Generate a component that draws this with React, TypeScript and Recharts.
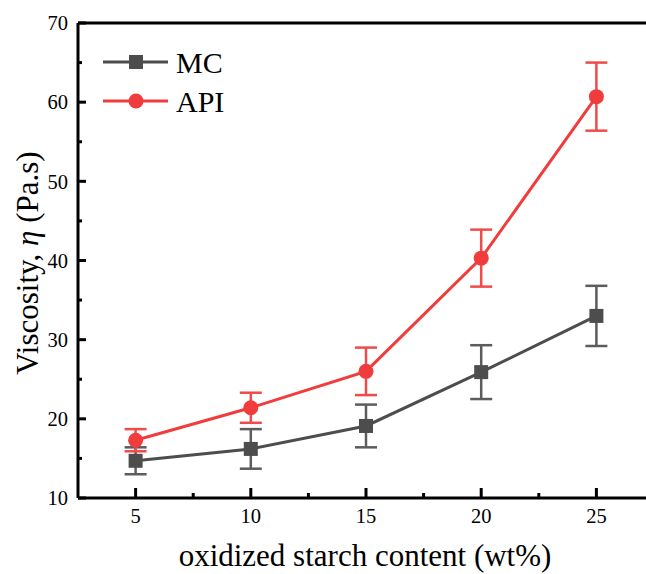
import React from 'react';
import { LineChart, Line, XAxis, YAxis, ErrorBar, ReferenceLine, Legend } from 'recharts';

const starchContent = [5, 10, 15, 20, 25];
const mcViscosity = [14.7, 16.2, 19.1, 25.9, 33.0];
const mcError = [1.7, 2.5, 2.7, 3.4, 3.8];
const apiViscosity = [17.3, 21.4, 26.0, 40.3, 60.7];
const apiError = [1.4, 1.9, 3.0, 3.6, 4.3];

const xTicks = [5, 7.5, 10, 12.5, 15, 17.5, 20, 22.5, 25];
const yTicks = [10, 15, 20, 25, 30, 35, 40, 45, 50, 55, 60, 65, 70];

const MC_COLOR = '#4d4d4d';
const MC_ERR = '#5c5c5c';
const API_COLOR = '#f03c3c';
const API_ERR = '#f04a4a';
const FONT = '"Liberation Serif", "Times New Roman", serif';

const chartData = starchContent.map((x, i) => ({
  x,
  mc: mcViscosity[i],
  mcErr: mcError[i],
  api: apiViscosity[i],
  apiErr: apiError[i],
}));

const YTick = (props: any) => {
  const { x, y, payload } = props;
  const v = payload.value;
  const major = v % 10 === 0;
  return (
    <g>
      <line x1={x} x2={x + (major ? 8 : 4)} y1={y} y2={y} stroke="#000" strokeWidth={3} />
      {major && (
        <text x={x - 10} y={y} dy="0.35em" textAnchor="end" fontFamily={FONT} fontSize={20.5} fill="#000">
          {v}
        </text>
      )}
    </g>
  );
};

const XTick = (props: any) => {
  const { x, y, payload } = props;
  const v = payload.value;
  const major = v % 5 === 0;
  return (
    <g>
      <line x1={x} x2={x} y1={y} y2={y - (major ? 10 : 5)} stroke="#000" strokeWidth={3} />
      {major && (
        <text x={x} y={y + 25} textAnchor="middle" fontFamily={FONT} fontSize={20.5} fill="#000">
          {v}
        </text>
      )}
    </g>
  );
};

const SquareDot = (props: any) => {
  const { cx, cy, index } = props;
  return <rect key={`sq-${index}`} x={cx - 7} y={cy - 7} width={14} height={14} fill={MC_COLOR} />;
};

const CircleDot = (props: any) => {
  const { cx, cy, index } = props;
  return <circle key={`ci-${index}`} cx={cx} cy={cy} r={7.5} fill={API_COLOR} />;
};

const LegendBox = () => (
  <svg width={160} height={84}>
    <line x1={8} x2={73} y1={22} y2={22} stroke={MC_COLOR} strokeWidth={3} />
    <rect x={34} y={15} width={14} height={14} fill={MC_COLOR} />
    <text x={81} y={22} dy="0.35em" fontFamily={FONT} fontSize={30} fill="#000">MC</text>
    <line x1={8} x2={73} y1={61} y2={61} stroke={API_COLOR} strokeWidth={3} />
    <circle cx={41} cy={61} r={7.5} fill={API_COLOR} />
    <text x={81} y={61} dy="0.35em" fontFamily={FONT} fontSize={30} fill="#000">API</text>
  </svg>
);

export default function App() {
  return (
    <div style={{ position: 'fixed', left: 0, top: 0, width: 646, height: 574, overflow: 'hidden', background: '#fff' }}>
      <LineChart width={680} height={574} data={chartData} margin={{ top: 23, right: 26, left: 0, bottom: 0 }}>
        <XAxis
          dataKey="x"
          type="number"
          domain={[2.5, 27.5]}
          ticks={xTicks}
          interval={0}
          height={76}
          tickSize={0}
          tickMargin={0}
          tickLine={false}
          axisLine={{ stroke: '#000', strokeWidth: 3 }}
          tick={<XTick />}
          label={{
            content: () => (
              <text x={365} y={566} textAnchor="middle" fontFamily={FONT} fontSize={31} fill="#000">
                oxidized starch content (wt%)
              </text>
            ),
          }}
        />
        <YAxis
          type="number"
          domain={[10, 70]}
          ticks={yTicks}
          interval={0}
          width={78}
          tickSize={0}
          tickMargin={0}
          tickLine={false}
          axisLine={{ stroke: '#000', strokeWidth: 3 }}
          tick={<YTick />}
          label={{
            content: () => (
              <text x={38} y={263} textAnchor="middle" transform="rotate(-90, 38, 263)" fontFamily={FONT} fontSize={31} fill="#000">
                Viscosity, <tspan fontStyle="italic">η</tspan> (Pa.s)
              </text>
            ),
          }}
        />
        <ReferenceLine y={70} stroke="#000" strokeWidth={3} />
        <Legend
          layout="horizontal"
          verticalAlign="middle"
          align="center"
          wrapperStyle={{ left: 95, top: 40, width: 160, height: 84 }}
          content={<LegendBox />}
        />
        <Line
          dataKey="mc"
          name="MC"
          stroke={MC_COLOR}
          strokeWidth={3}
          dot={<SquareDot />}
          activeDot={false}
          isAnimationActive={false}
        >
          <ErrorBar dataKey="mcErr" width={11} strokeWidth={2.5} stroke={MC_ERR} direction="y" isAnimationActive={false} />
        </Line>
        <Line
          dataKey="api"
          name="API"
          stroke={API_COLOR}
          strokeWidth={3}
          dot={<CircleDot />}
          activeDot={false}
          isAnimationActive={false}
        >
          <ErrorBar dataKey="apiErr" width={11} strokeWidth={2.5} stroke={API_ERR} direction="y" isAnimationActive={false} />
        </Line>
      </LineChart>
    </div>
  );
}
